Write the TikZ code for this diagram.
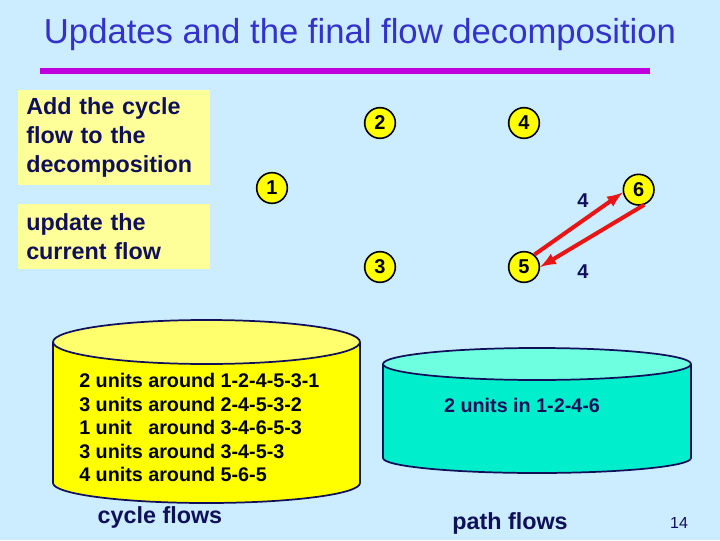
\documentclass[tikz,border=0pt]{standalone}
\usepackage{fontspec}
\setmainfont{Liberation Sans}
\usetikzlibrary{positioning}

\definecolor{slidebg}{RGB}{204,236,255}
\definecolor{titleblue}{RGB}{51,51,204}
\definecolor{rulemagenta}{RGB}{190,0,220}
\definecolor{navy}{RGB}{16,16,90}
\definecolor{noteyellow}{RGB}{255,255,153}
\definecolor{nodeyellow}{RGB}{255,255,0}
\definecolor{cyltop}{RGB}{255,255,110}
\definecolor{cylbody}{RGB}{255,255,0}
\definecolor{pathtop}{RGB}{110,255,225}
\definecolor{pathbody}{RGB}{0,238,204}
\definecolor{arrowred}{RGB}{235,20,20}

\begin{document}
\begin{tikzpicture}[x=0.75pt, y=0.75pt, node distance = 108pt and 108pt, on grid,
	vertex/.style = {circle, draw, line width=1.2pt, fill=nodeyellow, minimum size=23pt,
		inner sep=0pt, font=\fontsize{15}{16}\selectfont\bfseries},
	notebox/.style = {anchor=north west, fill=noteyellow, minimum width=144pt,
		text width=132pt, inner xsep=6pt, align=left, text=navy,
		font=\fontsize{17.5}{21.75}\selectfont\bfseries},
	caption/.style = {text=navy, font=\fontsize{17.5}{20}\selectfont\bfseries}]
	\fill[slidebg] (0,0) rectangle (720,540);
	\useasboundingbox (0,0) rectangle (720,540);

	\node (title) at (360,505) [text=titleblue, font=\fontsize{26}{28}\selectfont] {Updates and the final flow decomposition};
	\draw[rulemagenta, line width=4pt] (40,469) -- (650,469);

	\node (addnote) [notebox, minimum height=71.25pt] at (18,450)
		{Add the cycle\\flow to the\\decomposition};
	\node (updnote) [notebox, minimum height=48.75pt] at (18,336)
		{update the\\current flow};

	%network
	\node (n2) [vertex] at (380,417) {2};
	\node (n4) [vertex, right = of n2] {4};
	\node (n3) [vertex, below = of n2] {3};
	\node (n5) [vertex, right = of n3] {5};
	\node (n1) [vertex, below left = 48.75pt and 81pt of n2] {1};
	\node (n6) [vertex, below right = 50pt and 86pt of n4] {6};

	\begin{scope}[-latex, line width=3pt, arrowred]
		\draw (n5.50) -- (n6.190);
		\draw (n6.290) -- (n5.0);
	\end{scope}
	\node (up4) [text=navy, font=\fontsize{15}{16}\selectfont\bfseries] at (583,339) {4};
	\node (dn4) [text=navy, font=\fontsize{15}{16}\selectfont\bfseries] at (583,268) {4};

	%cycle flows cylinder
	\fill[cylbody] (53,198) -- (53,57) arc[start angle=180, end angle=360, x radius=153.5, y radius=20] -- (360,198) -- cycle;
	\draw[navy, line width=1.3pt] (53,198) -- (53,57) arc[start angle=180, end angle=360, x radius=153.5, y radius=20] -- (360,198);
	\filldraw[fill=cyltop, draw=navy, line width=1.3pt] (206.5,198) ellipse [x radius=153.5, y radius=22];
	\node (cyclelist) [anchor=west, inner sep=0pt, font=\fontsize{14.8}{17.6}\selectfont\bfseries] at (79,110)
		{\begin{tabular}{@{}l@{\ }l@{}}
		2 units & around 1-2-4-5-3-1\\
		3 units & around 2-4-5-3-2\\
		1 unit  & around 3-4-6-5-3\\
		3 units & around 3-4-5-3\\
		4 units & around 5-6-5
		\end{tabular}};
	\node (cyclecap) [caption, anchor=west] at (93,23) {cycle flows};

	%path flows cylinder
	\fill[pathbody] (383,176) -- (383,82) arc[start angle=180, end angle=360, x radius=154, y radius=15] -- (691,176) -- cycle;
	\draw[navy, line width=1.3pt] (383,176) -- (383,82) arc[start angle=180, end angle=360, x radius=154, y radius=15] -- (691,176);
	\filldraw[fill=pathtop, draw=navy, line width=1.3pt] (537,176) ellipse [x radius=154, y radius=16];
	\node (pathlist) [text=navy, font=\fontsize{14.8}{17.6}\selectfont\bfseries] at (522,135) {2 units in 1-2-4-6};
	\node (pathcap) [caption] at (510,17) {path flows};

	\node (pageno) [text=navy, font=\fontsize{12}{14}\selectfont] at (679,17) {14};
\end{tikzpicture}
\end{document}
